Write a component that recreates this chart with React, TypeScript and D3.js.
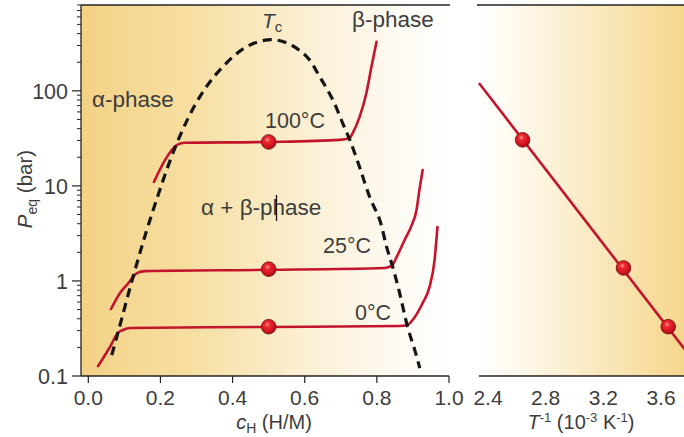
import React from "react";
import * as d3 from "d3";

// ---------- data ----------
const yTicks = [0.1, 1, 10, 100];
const yTickLabels = ["0.1", "1", "10", "100"];
const xTicksLeft = [0, 0.2, 0.4, 0.6, 0.8, 1.0];
const xTickLabelsLeft = ["0.0", "0.2", "0.4", "0.6", "0.8", "1.0"];
const xTicksRight = [2.4, 2.8, 3.2, 3.6];
const xTickLabelsRight = ["2.4", "2.8", "3.2", "3.6"];

// miscibility-gap dome (c_H, P)
const dome: [number, number][] = [
  [0.065, 0.166], [0.082, 0.284], [0.124, 1.1], [0.171, 4.38], [0.246, 28.4],
  [0.309, 86.5], [0.365, 166], [0.434, 284], [0.498, 344], [0.55, 320],
  [0.606, 228], [0.642, 140], [0.678, 80], [0.706, 45], [0.725, 30.5],
  [0.752, 15.8], [0.78, 7.66], [0.808, 4.38], [0.827, 2.28], [0.844, 1.4],
  [0.863, 0.75], [0.885, 0.33], [0.905, 0.188], [0.919, 0.121],
];

const iso100: [number, number][] = [
  [0.182, 11.0], [0.213, 18.8], [0.246, 27.0], [0.268, 28.4], [0.498, 29.0],
  [0.697, 30.5], [0.725, 32], [0.733, 36], [0.752, 53], [0.771, 95],
  [0.785, 179], [0.799, 328],
];
const iso25: [number, number][] = [
  [0.063, 0.507], [0.088, 0.748], [0.107, 0.908], [0.135, 1.21], [0.157, 1.27],
  [0.498, 1.31], [0.822, 1.37], [0.841, 1.44], [0.855, 1.79], [0.877, 2.7],
  [0.897, 3.89], [0.91, 5.59], [0.918, 9.08], [0.927, 14.7],
];
const iso0: [number, number][] = [
  [0.027, 0.127], [0.06, 0.202], [0.082, 0.284], [0.096, 0.305], [0.116, 0.32],
  [0.498, 0.328], [0.863, 0.336], [0.885, 0.345], [0.899, 0.388], [0.927, 0.586],
  [0.946, 0.865], [0.96, 1.66], [0.968, 3.7],
];

const plateauC = [0.5, 0.5, 0.5];
const plateauP = [29, 1.33, 0.33];

// van 't Hoff plot
const invT = [2.64, 3.34, 3.65];
const invTP = [30.5, 1.37, 0.33];
const fitLine: [number, number][] = [[2.337, 121], [3.8, 0.163]];

// ---------- layout ----------
const W = 684;
const H = 437;
const top = 5;
const bottom = 376;
const leftX0 = 81;
const leftX1 = 450;
const rightX0 = 477;
const rightX1 = 684;

const font = "'Liberation Sans', Arial, Helvetica, sans-serif";
const textColor = "#3d3d3d";
const red = "#c3142c";

export default function App() {
  const xL = d3.scaleLinear().domain([0, 1.0]).range([88.3, 449]);
  const y = d3.scaleLog().domain([0.1, 800]).range([bottom, top]);
  const xR = d3.scaleLinear().domain([2.4, 3.6]).range([488, 661]);

  const lineL = d3
    .line<[number, number]>()
    .x((d) => xL(d[0]))
    .y((d) => y(d[1]))
    .curve(d3.curveMonotoneX);
  const domeLine = d3
    .line<[number, number]>()
    .x((d) => xL(d[0]))
    .y((d) => y(d[1]))
    .curve(d3.curveCatmullRom.alpha(0.5));
  const lineR = d3
    .line<[number, number]>()
    .x((d) => xR(d[0]))
    .y((d) => y(d[1]));

  const minorTicks: number[] = [];
  [0.1, 1, 10, 100].forEach((dec) => {
    for (let k = 2; k <= 9; k++) {
      const v = dec * k;
      if (v <= 800) minorTicks.push(v);
    }
  });

  const ball = (cx: number, cy: number, key: string) => (
    <circle key={key} cx={cx} cy={cy} r={7.3} fill="url(#ballGrad)" stroke="#7c1410" strokeWidth={0.9} />
  );

  return (
    <svg width={W} height={H} style={{ display: "block", position: "absolute", left: 0, top: 0 }} fontFamily={font}>
      <defs>
        <linearGradient id="bgLeft" x1="0" x2="1" y1="0" y2="0">
          <stop offset="0" stopColor="#f3d286" />
          <stop offset="0.3" stopColor="#f7dfa2" />
          <stop offset="0.6" stopColor="#fbefd2" />
          <stop offset="0.85" stopColor="#fefaf2" />
          <stop offset="1" stopColor="#ffffff" />
        </linearGradient>
        <linearGradient id="bgRight" x1="0" x2="1" y1="0" y2="0">
          <stop offset="0" stopColor="#ffffff" />
          <stop offset="0.12" stopColor="#fffcf5" />
          <stop offset="0.5" stopColor="#fbecc8" />
          <stop offset="1" stopColor="#f5d68c" />
        </linearGradient>
        <radialGradient id="ballGrad" cx="0.42" cy="0.35" r="0.7">
          <stop offset="0" stopColor="#ff9a90" />
          <stop offset="0.25" stopColor="#ec2a30" />
          <stop offset="0.75" stopColor="#c8101c" />
          <stop offset="1" stopColor="#8e0c12" />
        </radialGradient>
        <clipPath id="clipL">
          <rect x={leftX0} y={top} width={leftX1 - leftX0} height={bottom - top} />
        </clipPath>
        <clipPath id="clipR">
          <rect x={rightX0} y={top} width={rightX1 - rightX0} height={bottom - top} />
        </clipPath>
      </defs>
      <rect x={0} y={0} width={W} height={H} fill="#ffffff" />

      {/* backgrounds */}
      <rect x={leftX0} y={top} width={leftX1 - leftX0} height={bottom - top} fill="url(#bgLeft)" />
      <rect x={rightX0} y={top} width={rightX1 - rightX0} height={bottom - top} fill="url(#bgRight)" />

      {/* left panel curves */}
      <g clipPath="url(#clipL)">
        <path d={lineL(iso100) || ""} fill="none" stroke={red} strokeWidth={2.6} strokeLinecap="round" />
        <path d={lineL(iso25) || ""} fill="none" stroke={red} strokeWidth={2.6} strokeLinecap="round" />
        <path d={lineL(iso0) || ""} fill="none" stroke={red} strokeWidth={2.6} strokeLinecap="round" />
        <path d={domeLine(dome) || ""} fill="none" stroke="#151515" strokeWidth={3.2} strokeDasharray="9 6" />
        {plateauC.map((c, i) => ball(xL(c), y(plateauP[i]), "b" + i))}
      </g>

      {/* right panel */}
      <g clipPath="url(#clipR)">
        <path d={lineR(fitLine) || ""} fill="none" stroke={red} strokeWidth={2.6} />
        {invT.map((t, i) => ball(xR(t), y(invTP[i]), "r" + i))}
      </g>

      {/* frame lines */}
      <line x1={leftX0} x2={leftX0} y1={top} y2={bottom} stroke="#222" strokeWidth={1.3} />
      <line x1={leftX0} x2={leftX1} y1={top} y2={top} stroke="#222" strokeWidth={1.3} />
      <line x1={leftX0} x2={xL(1.0)} y1={bottom} y2={bottom} stroke="#222" strokeWidth={1.3} />
      <line x1={rightX0} x2={rightX1} y1={top} y2={top} stroke="#222" strokeWidth={1.3} />
      <line x1={479} x2={rightX1} y1={bottom} y2={bottom} stroke="#222" strokeWidth={1.3} />

      {/* y ticks */}
      {minorTicks.map((v) => (
        <line key={"m" + v} x1={leftX0 - 4} x2={leftX0} y1={y(v)} y2={y(v)} stroke="#222" strokeWidth={1} />
      ))}
      {yTicks.map((v, i) => (
        <g key={"y" + v}>
          <line x1={leftX0 - 9} x2={leftX0} y1={y(v)} y2={y(v)} stroke="#222" strokeWidth={1.2} />
          <text x={68} y={y(v)} dy="0.36em" textAnchor="end" fontSize={21.5} fill={textColor}>
            {yTickLabels[i]}
          </text>
        </g>
      ))}

      {/* x ticks left */}
      {xTicksLeft.map((v, i) => (
        <g key={"xl" + v}>
          <line x1={xL(v)} x2={xL(v)} y1={bottom} y2={bottom + 7} stroke="#222" strokeWidth={1.2} />
          <text x={xL(v)} y={405} textAnchor="middle" fontSize={21} fill={textColor}>
            {xTickLabelsLeft[i]}
          </text>
        </g>
      ))}
      {/* x ticks right (labels only) */}
      {xTicksRight.map((v, i) => (
        <text key={"xr" + v} x={xR(v)} y={405} textAnchor="middle" fontSize={21} fill={textColor}>
          {xTickLabelsRight[i]}
        </text>
      ))}

      {/* axis titles */}
      <text transform="translate(32,189) rotate(-90)" textAnchor="middle" fontSize={20.5} fill={textColor}>
        <tspan fontStyle="italic">P</tspan>
        <tspan fontSize={14} dy={5}>eq</tspan>
        <tspan dy={-5}> (bar)</tspan>
      </text>
      <text x={274} y={429} textAnchor="middle" fontSize={20} fill={textColor}>
        <tspan fontStyle="italic">c</tspan>
        <tspan fontSize={14} dy={4}>H</tspan>
        <tspan dy={-4}> (H/M)</tspan>
      </text>
      <text x={581} y={429} textAnchor="middle" fontSize={20} fill={textColor}>
        <tspan fontStyle="italic">T</tspan>
        <tspan fontSize={13} dy={-7}>-1</tspan>
        <tspan dy={7}> (10</tspan>
        <tspan fontSize={13} dy={-7}>-3</tspan>
        <tspan dy={7}> K</tspan>
        <tspan fontSize={13} dy={-7}>-1</tspan>
        <tspan dy={7}>)</tspan>
      </text>

      {/* annotations */}
      <text x={92} y={107} fontSize={22.5} fill={textColor}>α-phase</text>
      <text x={352} y={27} fontSize={22.5} fill={textColor}>β-phase</text>
      <text x={262} y={28} fontSize={21} fill={textColor}>
        <tspan fontStyle="italic">T</tspan>
        <tspan fontSize={15} dy={4}>c</tspan>
      </text>
      <text x={265} y={128} fontSize={21.5} fill={textColor}>100°C</text>
      <text x={201} y={215} fontSize={22.5} fill={textColor}>α + β-phase</text>
      <line x1={276.5} x2={276.5} y1={195} y2={221} stroke="#111" strokeWidth={1.3} />
      <text x={323} y={253} fontSize={21.5} fill={textColor}>25°C</text>
      <text x={355} y={320} fontSize={21.5} fill={textColor}>0°C</text>
    </svg>
  );
}
